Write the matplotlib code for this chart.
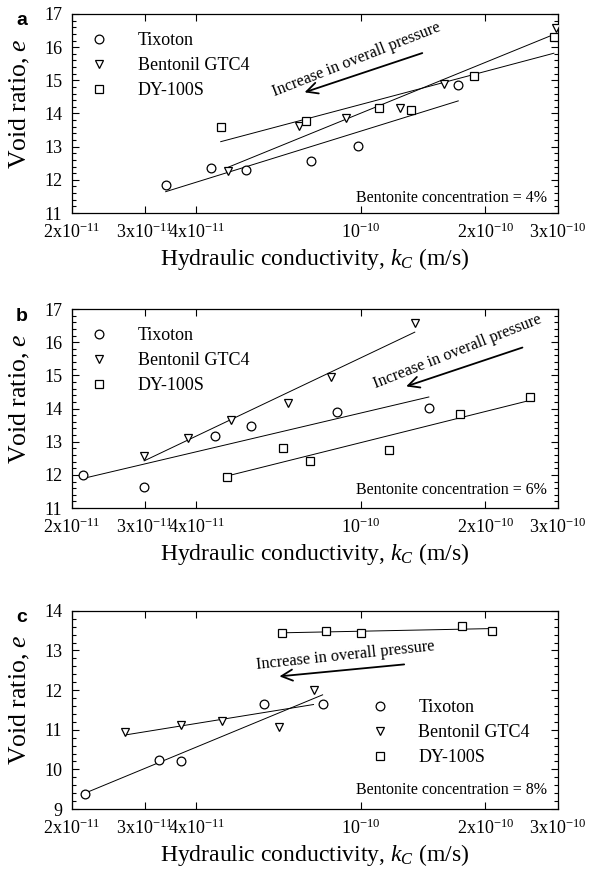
"""Void ratio vs hydraulic conductivity for three bentonites at 4, 6 and 8 %."""

import matplotlib

matplotlib.use("Agg")
import matplotlib.pyplot as plt
import matplotlib.ticker as ticker
import numpy as np

plt.rcParams["font.family"] = ["Liberation Serif", "DejaVu Serif"]
plt.rcParams["mathtext.fontset"] = "custom"
plt.rcParams["mathtext.rm"] = "Liberation Serif"
plt.rcParams["mathtext.it"] = "Liberation Serif:italic"

SERIES = ["Tixoton", "Bentonil GTC4", "DY-100S"]
MARKERS = ["o", "v", "s"]

# panel a: 4 %
a_tix_k = [3.37e-11, 4.33e-11, 5.26e-11, 7.57e-11, 9.84e-11, 1.72e-10]
a_tix_e = [11.84, 12.35, 12.29, 12.56, 13.02, 14.86]
a_gtc_k = [4.78e-11, 7.08e-11, 9.2e-11, 1.24e-10, 1.59e-10, 2.97e-10]
a_gtc_e = [12.27, 13.62, 13.86, 14.17, 14.89, 16.58]
a_dy_k = [4.58e-11, 7.38e-11, 1.106e-10, 1.32e-10, 1.88e-10, 2.93e-10]
a_dy_e = [13.58, 13.77, 14.17, 14.12, 15.12, 16.31]

# panel b: 6 %
b_tix_k = [2.13e-11, 2.99e-11, 4.43e-11, 5.43e-11, 8.73e-11, 1.46e-10]
b_tix_e = [12.0, 11.64, 13.17, 13.47, 13.89, 14.01]
b_gtc_k = [2.99e-11, 3.81e-11, 4.84e-11, 6.66e-11, 8.48e-11, 1.35e-10]
b_gtc_e = [12.57, 13.12, 13.65, 14.16, 14.96, 16.57]
b_dy_k = [4.74e-11, 6.49e-11, 7.55e-11, 1.17e-10, 1.74e-10, 2.57e-10]
b_dy_e = [11.93, 12.80, 12.43, 12.74, 13.85, 14.36]

# panel c: 8 %
c_tix_k = [2.15e-11, 3.24e-11, 3.67e-11, 5.83e-11, 8.08e-11]
c_tix_e = [9.38, 10.23, 10.21, 11.64, 11.66]
c_gtc_k = [2.69e-11, 3.67e-11, 4.62e-11, 6.34e-11, 7.68e-11]
c_gtc_e = [10.95, 11.12, 11.22, 11.07, 12.0]
c_dy_k = [6.46e-11, 8.23e-11, 1.0e-10, 1.756e-10, 2.08e-10]
c_dy_e = [13.45, 13.49, 13.43, 13.63, 13.49]

XTICKS = [2e-11, 3e-11, 4e-11, 1e-10, 2e-10, 3e-10]
XTICKLABELS = [
    r"$\mathregular{2x10^{-11}}$",
    r"$\mathregular{3x10^{-11}}$",
    r"$\mathregular{4x10^{-11}}$",
    r"$\mathregular{10^{-10}}$",
    r"$\mathregular{2x10^{-10}}$",
    r"$\mathregular{3x10^{-10}}$",
]

PANELS = [
    {
        "letter": "a",
        "conc": "Bentonite concentration = 4%",
        "data": [(a_tix_k, a_tix_e), (a_gtc_k, a_gtc_e), (a_dy_k, a_dy_e)],
        "ylim": (11, 17),
        "rect": [0.121, 0.756, 0.817, 0.228],
        "legend": (0.0, 1.0),
        "arrow": ((0.726, 0.808), (0.473, 0.602)),
        "arrow_text": (0.586, 0.772, 21.5),
        "conc_y": 0.075,
    },
    {
        "letter": "b",
        "conc": "Bentonite concentration = 6%",
        "data": [(b_tix_k, b_tix_e), (b_gtc_k, b_gtc_e), (b_dy_k, b_dy_e)],
        "ylim": (11, 17),
        "rect": [0.121, 0.418, 0.817, 0.228],
        "legend": (0.0, 1.0),
        "arrow": ((0.932, 0.811), (0.682, 0.607)),
        "arrow_text": (0.794, 0.787, 21.5),
        "conc_y": 0.09,
    },
    {
        "letter": "c",
        "conc": "Bentonite concentration = 8%",
        "data": [(c_tix_k, c_tix_e), (c_gtc_k, c_gtc_e), (c_dy_k, c_dy_e)],
        "ylim": (9, 14),
        "rect": [0.121, 0.0733, 0.817, 0.227],
        "legend": (0.577, 0.645),
        "arrow": ((0.689, 0.731), (0.421, 0.668)),
        "arrow_text": (0.563, 0.775, 6.0),
        "conc_y": 0.096,
    },
]

fig = plt.figure(figsize=(5.95, 8.73), dpi=100)

for p in PANELS:
    ax = fig.add_axes(p["rect"])
    for name, marker, (k, e) in zip(SERIES, MARKERS, p["data"]):
        k = np.asarray(k)
        e = np.asarray(e)
        slope, icpt = np.polyfit(np.log10(k), e, 1)
        kk = np.array([k.min(), k.max()])
        ax.plot(kk, slope * np.log10(kk) + icpt, color="black", lw=0.7, zorder=2)
        ax.plot(
            k, e, linestyle="none", marker=marker, ms=6.3, mfc="white",
            mec="black", mew=0.9, label=name, zorder=3,
        )

    ax.set_xscale("log")
    ax.set_xlim(2e-11, 3e-10)
    ax.set_ylim(*p["ylim"])
    ax.xaxis.set_major_locator(ticker.FixedLocator(XTICKS))
    ax.xaxis.set_major_formatter(ticker.FixedFormatter(XTICKLABELS))
    ax.xaxis.set_minor_locator(ticker.NullLocator())
    ax.yaxis.set_major_locator(ticker.MultipleLocator(1))
    ax.yaxis.set_minor_locator(ticker.MultipleLocator(0.2))
    ax.tick_params(which="both", direction="in", top=True, right=True,
                   labelsize=13, width=0.8)
    ax.tick_params(which="major", length=5, pad=7)
    ax.tick_params(which="minor", length=3)
    for s in ax.spines.values():
        s.set_linewidth(0.9)

    ax.set_xlabel(r"Hydraulic conductivity, $k_C$ (m/s)", fontsize=17, labelpad=3)
    ax.set_ylabel(r"Void ratio, $e$", fontsize=18.5)
    ax.yaxis.set_label_coords(-0.083, 0.55)

    ax.legend(
        loc="upper left", bbox_to_anchor=p["legend"], frameon=False,
        fontsize=13, handlelength=1.0, handletextpad=1.65, labelspacing=0.45,
        borderaxespad=0.6,
    )

    (x0, y0), (x1, y1) = p["arrow"]
    ax.annotate(
        "", xy=(x1, y1), xytext=(x0, y0), xycoords="axes fraction",
        textcoords="axes fraction",
        arrowprops=dict(arrowstyle="->", lw=1.3, color="black", mutation_scale=20),
    )
    tx, ty, rot = p["arrow_text"]
    ax.text(tx, ty, "Increase in overall pressure", transform=ax.transAxes,
            ha="center", va="center", rotation=rot, fontsize=11.8)
    ax.text(0.977, p["conc_y"], p["conc"], transform=ax.transAxes,
            ha="right", va="center", fontsize=11.5)

    fig.text(0.037, p["rect"][1] + p["rect"][3] - 0.008, p["letter"],
             family="Liberation Sans", weight="bold", fontsize=14,
             ha="center", va="center")

fig.savefig("out.png", dpi=100)
